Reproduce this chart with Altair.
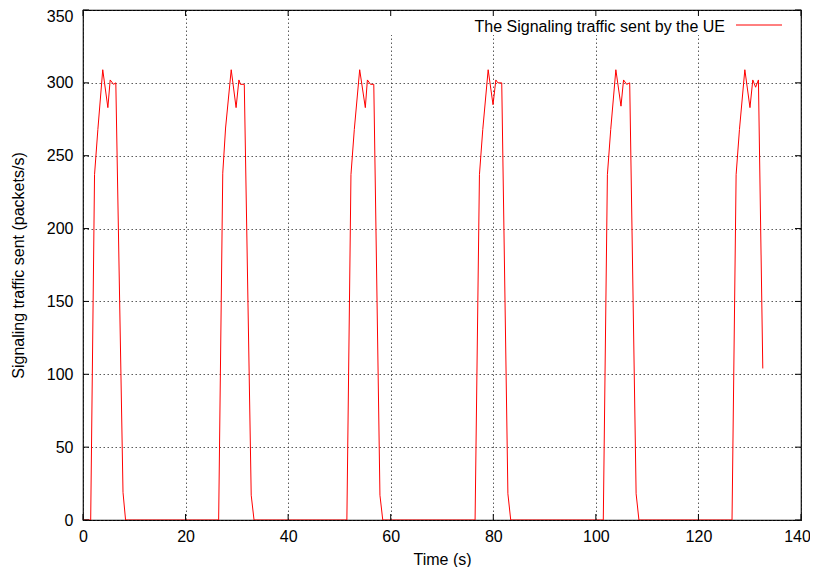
import altair as alt
import pandas as pd

# ---- data ----
time_s = [
    0.0, 1.5, 2.25, 2.9, 3.85, 4.85, 5.3, 5.95, 6.4, 7.8, 8.3,
    26.45, 27.25, 27.8, 28.9, 29.85, 30.4, 30.7, 31.45, 32.8, 33.35,
    51.45, 52.25, 52.9, 53.95, 55.05, 55.45, 56.05, 56.7, 57.9, 58.45,
    76.45, 77.3, 77.95, 79.0, 79.95, 80.5, 80.9, 81.65, 82.85, 83.4,
    101.45, 102.25, 102.9, 103.9, 104.9, 105.4, 106.0, 106.6, 107.85, 108.4,
    126.55, 127.35, 128.0, 129.05, 130.05, 130.6, 131.15, 131.7, 132.55,
]
traffic = [
    0, 0, 237, 268, 309, 283, 302, 299, 300, 19, 0,
    0, 238, 269, 309, 283, 302, 299, 299, 17, 0,
    0, 237, 268, 309, 283, 302, 299, 299, 17, 0,
    0, 237, 268, 309, 285, 302, 300, 300, 18, 0,
    0, 237, 268, 309, 284, 302, 299, 300, 18, 0,
    0, 237, 268, 309, 283, 302, 297, 302, 104,
]
x_ticks = [0, 20, 40, 60, 80, 100, 120, 140]
y_ticks = [0, 50, 100, 150, 200, 250, 300, 350]
series_label = "The Signaling traffic sent by the UE"
x_title = "Time (s)"
y_title = "Signaling traffic sent (packets/s)"

W, H = 718, 510
FONT = "Liberation Sans"
FS = 16

df = pd.DataFrame({"time": time_s, "traffic": traffic})
xt = pd.DataFrame({"time": x_ticks})
yt = pd.DataFrame({"traffic": y_ticks})
one = pd.DataFrame({"a": [0]})

xs = alt.Scale(domain=[0, 140], nice=False, zero=False)
ys = alt.Scale(domain=[0, 350], nice=False)

grid_kw = dict(grid=True, gridColor="#333", gridDash=[1.5, 2.5], gridOpacity=0.8, gridWidth=1)

line = alt.Chart(df).mark_line(color="#ff0000", strokeWidth=1, clip=True).encode(
    x=alt.X("time:Q", scale=xs, axis=alt.Axis(
        values=x_ticks, title=x_title, ticks=False, domain=False,
        labelFlush=False, labelOverlap=False, labelPadding=8, labelFont=FONT,
        labelFontSize=FS, labelColor="black",
        labelOffset={"condition": {"test": "datum.value == 140", "value": -4}, "value": 0},
        titleFont=FONT, titleFontSize=FS,
        titleFontWeight="normal", titleColor="black", titleY=39, titleX=W / 2,
        titleBaseline="middle", **grid_kw)),
    y=alt.Y("traffic:Q", scale=ys, axis=alt.Axis(
        values=y_ticks, title=y_title, ticks=False, domain=False,
        labelOverlap=False, labelPadding=10, labelFont=FONT, labelFontSize=FS,
        labelColor="black",
        labelOffset={"condition": {"test": "datum.value == 350", "value": 6}, "value": 0},
        titleFont=FONT, titleFontSize=FS, titleFontWeight="normal",
        titleColor="black", titleX=-65, titleY=H / 2, titleBaseline="middle",
        **grid_kw)),
)

mask = alt.Chart(one).mark_rect(fill="white").encode(
    x=alt.value(297), x2=alt.value(W - 1), y=alt.value(1), y2=alt.value(25)
)

tick_len = 6
xt_bot = alt.Chart(xt).mark_rule(color="black", strokeWidth=1).encode(
    x=alt.X("time:Q", scale=xs), y=alt.value(H), y2=alt.value(H - tick_len))
xt_top = alt.Chart(xt).mark_rule(color="black", strokeWidth=1).encode(
    x=alt.X("time:Q", scale=xs), y=alt.value(0), y2=alt.value(tick_len))
yt_left = alt.Chart(yt).mark_rule(color="black", strokeWidth=1).encode(
    y=alt.Y("traffic:Q", scale=ys), x=alt.value(0), x2=alt.value(tick_len))
yt_right = alt.Chart(yt).mark_rule(color="black", strokeWidth=1).encode(
    y=alt.Y("traffic:Q", scale=ys), x=alt.value(W), x2=alt.value(W - tick_len))

leg_text = alt.Chart(one).mark_text(
    align="right", baseline="middle", font=FONT, fontSize=FS, color="black"
).encode(x=alt.value(642), y=alt.value(17), text=alt.value(series_label))
leg_line = alt.Chart(one).mark_rule(color="#ff0000", strokeWidth=1).encode(
    x=alt.value(653), x2=alt.value(699), y=alt.value(15))

chart = alt.layer(
    line, mask, xt_bot, xt_top, yt_left, yt_right, leg_text, leg_line
).properties(
    width=W, height=H,
    autosize=alt.AutoSizeParams(type="none"),
    padding={"left": 75, "top": 2, "right": 9, "bottom": 47},
    background="white",
).configure_view(stroke="black", strokeWidth=1.2)

chart.save("out.html", embed_options={"renderer": "svg", "actions": False})
